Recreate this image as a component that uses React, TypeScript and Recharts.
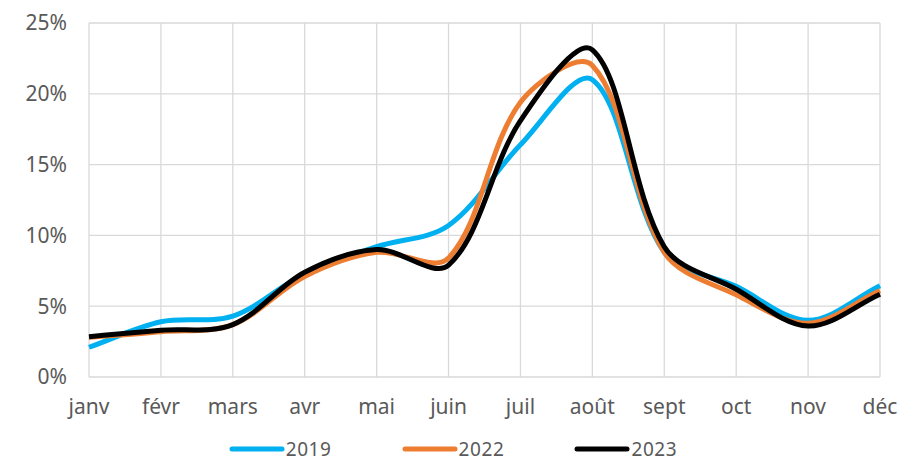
import { LineChart, Line, XAxis, YAxis, CartesianGrid, Legend } from 'recharts';

const months = ['janv', 'févr', 'mars', 'avr', 'mai', 'juin', 'juil', 'août', 'sept', 'oct', 'nov', 'déc'];
const values2019 = [2.1, 3.9, 4.3, 7.3, 9.2, 10.7, 16.4, 21.0, 8.8, 6.4, 4.0, 6.45];
const values2022 = [2.8, 3.2, 3.7, 7.1, 8.8, 8.4, 19.4, 22.0, 8.8, 5.8, 3.8, 6.1];
const values2023 = [2.85, 3.3, 3.7, 7.4, 9.0, 7.9, 18.1, 23.1, 9.2, 6.2, 3.6, 5.85];
const yTicks = [0, 5, 10, 15, 20, 25];

const series = [
  { key: 'y2019', name: '2019', color: '#00B0F0' },
  { key: 'y2022', name: '2022', color: '#ED7D31' },
  { key: 'y2023', name: '2023', color: '#000000' },
];

const data = months.map((m, i) => ({
  month: m,
  y2019: values2019[i],
  y2022: values2022[i],
  y2023: values2023[i],
}));

const FONT = '"Noto Sans", sans-serif';
const TEXT = '#595959';

// smoothed line like the spreadsheet one: bezier handles scaled by neighbour distances
const smoothCurve = (context: any) => {
  let xs: number[] = [];
  let ys: number[] = [];
  return {
    areaStart() {},
    areaEnd() {},
    lineStart() {
      xs = [];
      ys = [];
    },
    point(x: number, y: number) {
      xs.push(+x);
      ys.push(+y);
    },
    lineEnd() {
      const n = xs.length;
      if (!n) return;
      context.moveTo(xs[0], ys[0]);
      if (n === 1) return;
      const handles = xs.map((_, i) => {
        const p = i > 0 ? i - 1 : i;
        const q = i < n - 1 ? i + 1 : i;
        const dp = Math.hypot(xs[i] - xs[p], ys[i] - ys[p]);
        const dq = Math.hypot(xs[q] - xs[i], ys[q] - ys[i]);
        const tx = xs[q] - xs[p];
        const ty = ys[q] - ys[p];
        const sum = dp + dq || 1;
        return {
          bx: xs[i] - (tx * dp) / sum / 3,
          by: ys[i] - (ty * dp) / sum / 3,
          ax: xs[i] + (tx * dq) / sum / 3,
          ay: ys[i] + (ty * dq) / sum / 3,
        };
      });
      for (let i = 0; i < n - 1; i++) {
        context.bezierCurveTo(handles[i].ax, handles[i].ay, handles[i + 1].bx, handles[i + 1].by, xs[i + 1], ys[i + 1]);
      }
    },
  };
};

function LegendContent() {
  return (
    <div style={{ display: 'flex', justifyContent: 'center', alignItems: 'center', gap: 70, height: 20 }}>
      {series.map((s) => (
        <div key={s.key} style={{ display: 'flex', alignItems: 'center', height: 20 }}>
          <svg width={56} height={10}>
            <line x1={3} y1={5} x2={53} y2={5} stroke={s.color} strokeWidth={5} strokeLinecap="round" />
          </svg>
          <span style={{ fontFamily: FONT, fontSize: 19, lineHeight: '20px', color: TEXT, marginLeft: 1, letterSpacing: 0.6 }}>
            {s.name}
          </span>
        </div>
      ))}
    </div>
  );
}

export default function App() {
  return (
    <div style={{ position: 'absolute', left: 0, top: 0, width: 906, height: 463, background: '#fff' }}>
      <LineChart width={906} height={463} data={data} margin={{ top: 23, right: 26, bottom: 26, left: 0 }}>
        <CartesianGrid stroke="#d9d9d9" strokeWidth={1.3} />
        <XAxis
          dataKey="month"
          scale="point"
          padding={{ left: 0, right: 0 }}
          height={40}
          axisLine={false}
          tickLine={false}
          tickSize={0}
          tickMargin={22}
          interval={0}
          tick={{ fontFamily: FONT, fontSize: 21, fill: TEXT }}
        />
        <YAxis
          width={89}
          domain={[0, 25]}
          ticks={yTicks}
          tickFormatter={(v) => `${v}%`}
          axisLine={false}
          tickLine={false}
          tickSize={0}
          tickMargin={22}
          tick={{ fontFamily: FONT, fontSize: 21, fill: TEXT }}
        />
        <Legend
          verticalAlign="bottom"
          content={<LegendContent />}
          wrapperStyle={{ top: 439, bottom: 'auto', left: 0, width: 906 }}
        />
        {series.map((s) => (
          <Line
            key={s.key}
            dataKey={s.key}
            name={s.name}
            type={smoothCurve as any}
            stroke={s.color}
            strokeWidth={5}
            dot={false}
            activeDot={false}
            isAnimationActive={false}
          />
        ))}
      </LineChart>
    </div>
  );
}
